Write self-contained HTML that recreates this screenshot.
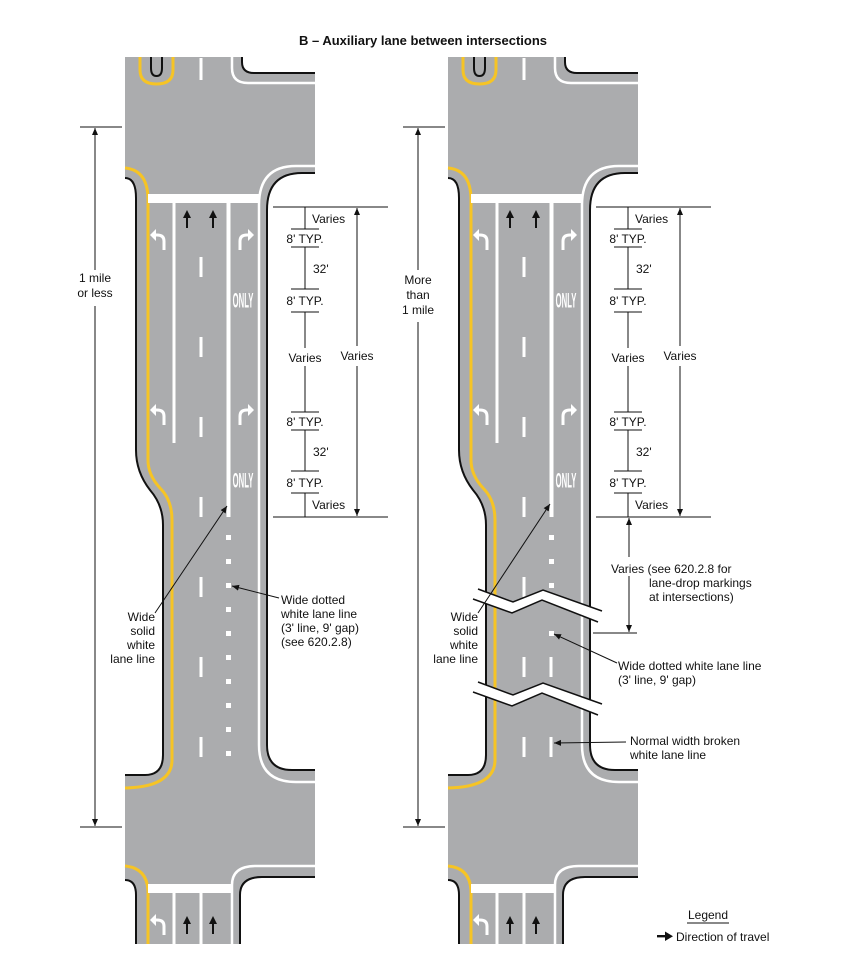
<!DOCTYPE html>
<html><head><meta charset="utf-8"><style>
html,body{margin:0;padding:0;background:#fff}
svg{display:block}
text{font-family:"Liberation Sans",sans-serif;font-size:12px;fill:#111}
</style></head><body>
<svg width="850" height="978" viewBox="0 0 850 978" xmlns="http://www.w3.org/2000/svg">
<defs>
<marker id="ah" markerWidth="8" markerHeight="8" refX="7" refY="4" orient="auto" markerUnits="userSpaceOnUse"><path d="M0,1 L7,4 L0,7 Z" fill="#111"/></marker>
<g id="road">
  <path d="M125,57 L242,57 L242,62 Q242,73 254,73 L315,73 L315,173 L302,173 Q267,173 267,210 L267,745 Q267,770 292,770 L315,770 L315,877 L262,877 Q240,877 240,895 L240,944 L136,944 L136,895 Q136,880 125,880 L125,775 L145,775 Q163,775 163,755 L163,525 Q163,505 150,490 Q136,472 136,450 L136,198 Q136,178 125,178 Z" fill="#abacae"/>
  <g fill="none" stroke="#111" stroke-width="2">
    <path d="M242,57 L242,62 Q242,73 254,73 L315,73"/>
    <path d="M315,173 L302,173 Q267,173 267,210 L267,745 Q267,770 292,770 L315,770"/>
    <path d="M315,877 L262,877 Q240,877 240,895 L240,944"/>
    <path d="M136,944 L136,895 Q136,880 125,880"/>
    <path d="M125,775 L145,775 Q163,775 163,755 L163,525 Q163,505 150,490 Q136,472 136,450 L136,198 Q136,178 125,178"/>
    <path d="M151,57 L151,68 Q151,76 156.5,76 Q162,76 162,68 L162,57"/>
  </g>
  <g fill="none" stroke="#f6c425" stroke-width="3">
    <path d="M140,57 L140,70 Q140,84 156.5,84 Q173,84 173,70 L173,57"/>
    <path d="M125,168 Q148,170 148,200 L148,460 Q148,475 160,488 Q172,500 172,520 L172,760 Q172,787 125,788"/>
    <path d="M125,866 Q148,868 148,893 L148,944"/>
  </g>
  <g fill="none" stroke="#fff" stroke-width="2.5">
    <path d="M232,57 L232,68 Q232,83 248,83 L315,83"/>
    <path d="M315,166 L296,166 Q259,166 259,205 L259,745 Q259,782 296,782 L315,782"/>
    <path d="M315,866 L256,866 Q232,866 232,885 L232,944"/>
  </g>
  <g fill="#fff">
    <rect x="148" y="194" width="111" height="9"/>
    <rect x="172.5" y="203" width="3" height="240"/>
    <rect x="226.5" y="203" width="4" height="314"/>
    <rect x="199.5" y="58" width="3" height="22"/>
    <rect x="199.5" y="257" width="3" height="20"/>
    <rect x="199.5" y="337" width="3" height="20"/>
    <rect x="199.5" y="417" width="3" height="20"/>
    <rect x="199.5" y="497" width="3" height="20"/>
    <rect x="199.5" y="577" width="3" height="20"/>
    <rect x="199.5" y="657" width="3" height="20"/>
    <rect x="199.5" y="737" width="3" height="20"/>
    <rect x="148" y="884" width="84" height="9"/>
    <rect x="172.5" y="893" width="3" height="51"/>
    <rect x="199.5" y="893" width="3" height="51"/>
  </g>
  <g fill="#111">
    <rect x="186" y="216" width="2" height="12"/><path d="M183,218 L187,210 L191,218 Z"/>
    <rect x="212" y="216" width="2" height="12"/><path d="M209,218 L213,210 L217,218 Z"/>
    <rect x="186" y="922" width="2" height="12"/><path d="M183,924 L187,916 L191,924 Z"/>
    <rect x="212" y="922" width="2" height="12"/><path d="M209,924 L213,916 L217,924 Z"/>
  </g>
  <g fill="none" stroke="#fff" stroke-width="3">
    <path d="M164,250 L164,241 Q164,235 157,235 L155,235"/>
    <path d="M164,425 L164,416 Q164,410 157,410 L155,410"/>
    <path d="M164,935 L164,926 Q164,920 157,920 L155,920"/>
    <path d="M240,250 L240,241 Q240,235 247,235 L249,235"/>
    <path d="M240,425 L240,416 Q240,410 247,410 L249,410"/>
  </g>
  <g fill="#fff">
    <path d="M156,229 L150,235 L156,241 Z"/>
    <path d="M156,404 L150,410 L156,416 Z"/>
    <path d="M156,914 L150,920 L156,926 Z"/>
    <path d="M248,229 L254,235 L248,241 Z"/>
    <path d="M248,404 L254,410 L248,416 Z"/>
  </g>
</g>
</defs>

<text x="423" y="45" text-anchor="middle" style="font-weight:bold;font-size:13px">B – Auxiliary lane between intersections</text>

<use href="#road"/>
<g fill="#fff">
  <rect x="226" y="535" width="5" height="5"/><rect x="226" y="559" width="5" height="5"/><rect x="226" y="583" width="5" height="5"/><rect x="226" y="607" width="5" height="5"/><rect x="226" y="631" width="5" height="5"/><rect x="226" y="655" width="5" height="5"/><rect x="226" y="679" width="5" height="5"/><rect x="226" y="703" width="5" height="5"/><rect x="226" y="727" width="5" height="5"/><rect x="226" y="751" width="5" height="5"/>
</g>
<text transform="translate(243,300) scale(0.55,1.5)" text-anchor="middle" dy="5" style="fill:#fff;font-weight:bold;font-size:14px">ONLY</text>
<text transform="translate(243,480) scale(0.55,1.5)" text-anchor="middle" dy="5" style="fill:#fff;font-weight:bold;font-size:14px">ONLY</text>

<use href="#road" transform="translate(323,0)"/>
<g fill="#fff">
  <rect x="549" y="535" width="5" height="5"/><rect x="549" y="559" width="5" height="5"/><rect x="549" y="583" width="5" height="5"/><rect x="549" y="631" width="5" height="5"/>
  <rect x="549.5" y="657" width="3" height="20"/><rect x="549.5" y="737" width="3" height="20"/>
</g>
<text transform="translate(566,300) scale(0.55,1.5)" text-anchor="middle" dy="5" style="fill:#fff;font-weight:bold;font-size:14px">ONLY</text>
<text transform="translate(566,480) scale(0.55,1.5)" text-anchor="middle" dy="5" style="fill:#fff;font-weight:bold;font-size:14px">ONLY</text>
<g>
  <path d="M478,589 L513,602 L543,590 L602,611 L598,622 L542,600 L512,613 L473,599 Z" fill="#fff"/>
  <path d="M478,589 L513,602 L543,590 L602,611 M473,599 L512,613 L542,600 L598,622" fill="none" stroke="#111" stroke-width="1.5"/>
  <path d="M478,682 L513,695 L543,683 L602,704 L598,715 L542,693 L512,706 L473,692 Z" fill="#fff"/>
  <path d="M478,682 L513,695 L543,683 L602,704 M473,692 L512,706 L542,693 L598,715" fill="none" stroke="#111" stroke-width="1.5"/>
</g>

<g stroke="#111" stroke-width="1" fill="none">
  <path d="M80,127 L122,127 M80,827 L122,827"/>
  <path d="M95,270 L95,128" marker-end="url(#ah)"/>
  <path d="M95,306 L95,826" marker-end="url(#ah)"/>
  <path d="M403,127 L445,127 M403,827 L445,827"/>
  <path d="M418,270 L418,128" marker-end="url(#ah)"/>
  <path d="M418,322 L418,826" marker-end="url(#ah)"/>
</g>
<text x="95" y="282" text-anchor="middle">1 mile</text>
<text x="95" y="297" text-anchor="middle">or less</text>
<text x="418" y="284" text-anchor="middle">More</text>
<text x="418" y="299" text-anchor="middle">than</text>
<text x="418" y="314" text-anchor="middle">1 mile</text>

<g>
<g stroke="#111" stroke-width="1" fill="none">
  <path d="M273,207 L388,207 M273,517 L388,517"/>
  <path d="M305,207 L305,229 M305,247 L305,289 M305,312 L305,348 M305,366 L305,412 M305,430 L305,471 M305,493 L305,517"/>
  <path d="M291,229 L319,229 M291,247 L319,247 M291,289 L319,289 M291,312 L319,312 M291,412 L319,412 M291,430 L319,430 M291,471 L319,471 M291,493 L319,493"/>
  <path d="M357,346 L357,208" marker-end="url(#ah)"/>
  <path d="M357,366 L357,516" marker-end="url(#ah)"/>
</g>
<text x="312" y="223">Varies</text>
<text x="305" y="243" text-anchor="middle">8' TYP.</text>
<text x="313" y="273">32'</text>
<text x="305" y="305" text-anchor="middle">8' TYP.</text>
<text x="305" y="362" text-anchor="middle">Varies</text>
<text x="357" y="360" text-anchor="middle">Varies</text>
<text x="305" y="426" text-anchor="middle">8' TYP.</text>
<text x="313" y="456">32'</text>
<text x="305" y="487" text-anchor="middle">8' TYP.</text>
<text x="312" y="509">Varies</text>
</g>
<g transform="translate(323,0)">
<g stroke="#111" stroke-width="1" fill="none">
  <path d="M273,207 L388,207 M273,517 L388,517"/>
  <path d="M305,207 L305,229 M305,247 L305,289 M305,312 L305,348 M305,366 L305,412 M305,430 L305,471 M305,493 L305,517"/>
  <path d="M291,229 L319,229 M291,247 L319,247 M291,289 L319,289 M291,312 L319,312 M291,412 L319,412 M291,430 L319,430 M291,471 L319,471 M291,493 L319,493"/>
  <path d="M357,346 L357,208" marker-end="url(#ah)"/>
  <path d="M357,366 L357,516" marker-end="url(#ah)"/>
</g>
<text x="312" y="223">Varies</text>
<text x="305" y="243" text-anchor="middle">8' TYP.</text>
<text x="313" y="273">32'</text>
<text x="305" y="305" text-anchor="middle">8' TYP.</text>
<text x="305" y="362" text-anchor="middle">Varies</text>
<text x="357" y="360" text-anchor="middle">Varies</text>
<text x="305" y="426" text-anchor="middle">8' TYP.</text>
<text x="313" y="456">32'</text>
<text x="305" y="487" text-anchor="middle">8' TYP.</text>
<text x="312" y="509">Varies</text>
</g>

<g stroke="#111" stroke-width="1" fill="none">
  <path d="M593,633 L637,633"/>
  <path d="M629,557 L629,518" marker-end="url(#ah)"/>
  <path d="M629,576 L629,632" marker-end="url(#ah)"/>
</g>
<text x="611" y="573">Varies (see 620.2.8 for</text>
<text x="649" y="587">lane-drop markings</text>
<text x="649" y="601">at intersections)</text>

<g stroke="#111" stroke-width="1" fill="none">
  <path d="M155,613 L227,506" marker-end="url(#ah)"/>
  <path d="M279,598 L232,586" marker-end="url(#ah)"/>
  <path d="M478,613 L550,504" marker-end="url(#ah)"/>
  <path d="M617,663 L554,634" marker-end="url(#ah)"/>
  <path d="M626,742 L554,743" marker-end="url(#ah)"/>
</g>
<g text-anchor="end">
<text x="155" y="621">Wide</text><text x="155" y="635">solid</text><text x="155" y="649">white</text><text x="155" y="663">lane line</text>
<text x="478" y="621">Wide</text><text x="478" y="635">solid</text><text x="478" y="649">white</text><text x="478" y="663">lane line</text>
</g>
<text x="281" y="604">Wide dotted</text>
<text x="281" y="618">white lane line</text>
<text x="281" y="632">(3' line, 9' gap)</text>
<text x="281" y="646">(see 620.2.8)</text>
<text x="618" y="670">Wide dotted white lane line</text>
<text x="618" y="684">(3' line, 9' gap)</text>
<text x="630" y="745">Normal width broken</text>
<text x="630" y="759">white lane line</text>

<text x="708" y="919" text-anchor="middle">Legend</text>
<line x1="687" y1="923" x2="729" y2="923" stroke="#111" stroke-width="1"/>
<rect x="657" y="935" width="10" height="2.4" fill="#111"/>
<path d="M665,931.5 L673,936.2 L665,941 Z" fill="#111"/>
<text x="676" y="941">Direction of travel</text>
</svg>
</body></html>
